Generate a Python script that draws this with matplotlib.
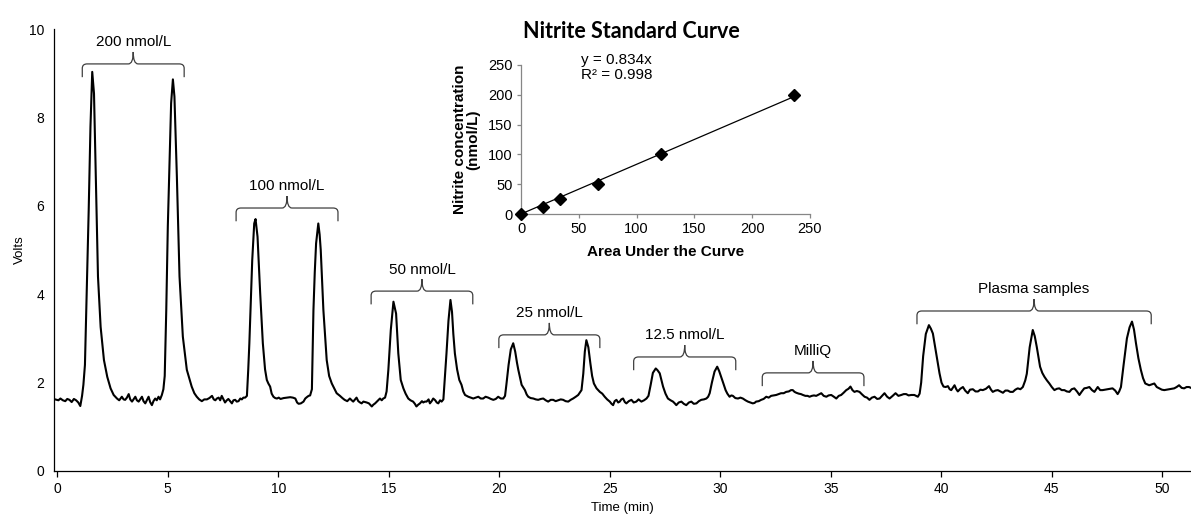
import numpy as np
import matplotlib.pyplot as plt
from matplotlib.path import Path
from matplotlib.patches import PathPatch

plt.rcParams['font.family'] = ['Liberation Sans', 'DejaVu Sans']

# chromatogram trace (rows of 10 points, same order in both lists)
time_min = [
    -0.1, 0.05, 0.14, 0.25, 0.36, 0.45, 0.55, 0.65, 0.75, 0.85,
    0.95, 1.04, 1.12, 1.18, 1.25, 1.31, 1.42, 1.50, 1.58, 1.66,
    1.74, 1.84, 1.96, 2.11, 2.26, 2.41, 2.55, 2.70, 2.80, 2.92,
    3.00, 3.07, 3.15, 3.23, 3.30, 3.38, 3.46, 3.53, 3.60, 3.68,
    3.75, 3.83, 3.90, 3.98, 4.05, 4.13, 4.20, 4.28, 4.35, 4.43,
    4.50, 4.58, 4.65, 4.73, 4.80, 4.86, 4.93, 5.00, 5.08, 5.15,
    5.23, 5.30, 5.41, 5.53, 5.68, 5.86, 6.08, 6.20, 6.31, 6.42,
    6.54, 6.65, 6.77, 6.88, 7.00, 7.08, 7.15, 7.22, 7.30, 7.37,
    7.44, 7.52, 7.59, 7.67, 7.74, 7.82, 7.90, 7.97, 8.05, 8.12,
    8.20, 8.28, 8.35, 8.42, 8.50, 8.58, 8.64, 8.69, 8.76, 8.82,
    8.91, 8.97, 9.06, 9.18, 9.30, 9.40, 9.48, 9.55, 9.63, 9.70,
    9.78, 9.86, 9.94, 10.02, 10.10, 10.24, 10.40, 10.54, 10.66, 10.77,
    10.85, 10.92, 11.02, 11.14, 11.22, 11.29, 11.37, 11.44, 11.52, 11.59,
    11.65, 11.71, 11.81, 11.87, 11.92, 12.04, 12.19, 12.30, 12.42, 12.50,
    12.64, 12.79, 12.90, 13.00, 13.12, 13.24, 13.32, 13.39, 13.47, 13.54,
    13.62, 13.70, 13.77, 13.85, 14.00, 14.10, 14.23, 14.30, 14.38, 14.48,
    14.60, 14.68, 14.75, 14.83, 14.90, 14.98, 15.09, 15.21, 15.33, 15.43,
    15.54, 15.66, 15.76, 15.88, 15.98, 16.10, 16.18, 16.25, 16.33, 16.41,
    16.50, 16.56, 16.63, 16.71, 16.80, 16.86, 16.94, 17.01, 17.10, 17.17,
    17.24, 17.32, 17.39, 17.47, 17.55, 17.61, 17.70, 17.79, 17.86, 17.92,
    17.99, 18.09, 18.19, 18.29, 18.37, 18.45, 18.52, 18.60, 18.71, 18.82,
    18.93, 19.05, 19.16, 19.27, 19.38, 19.50, 19.62, 19.73, 19.84, 19.95,
    20.07, 20.18, 20.26, 20.32, 20.42, 20.52, 20.63, 20.72, 20.80, 20.86,
    21.01, 21.16, 21.24, 21.31, 21.42, 21.54, 21.65, 21.76, 21.88, 21.99,
    22.10, 22.21, 22.33, 22.44, 22.55, 22.67, 22.78, 22.89, 23.00, 23.12,
    23.23, 23.34, 23.46, 23.57, 23.65, 23.72, 23.80, 23.87, 23.94, 24.03,
    24.12, 24.20, 24.28, 24.40, 24.55, 24.66, 24.77, 24.88, 25.00, 25.08,
    25.15, 25.22, 25.30, 25.38, 25.45, 25.52, 25.60, 25.68, 25.75, 25.86,
    25.98, 26.08, 26.20, 26.30, 26.43, 26.55, 26.66, 26.75, 26.85, 26.95,
    27.08, 27.16, 27.26, 27.41, 27.52, 27.63, 27.75, 27.86, 27.94, 28.01,
    28.12, 28.24, 28.35, 28.46, 28.58, 28.69, 28.80, 28.92, 29.03, 29.14,
    29.26, 29.37, 29.45, 29.52, 29.62, 29.74, 29.86, 29.95, 30.04, 30.14,
    30.24, 30.32, 30.42, 30.50, 30.57, 30.68, 30.80, 30.91, 31.02, 31.14,
    31.25, 31.36, 31.47, 31.55, 31.62, 31.74, 31.85, 31.96, 32.08, 32.19,
    32.30, 32.42, 32.53, 32.64, 32.75, 32.87, 32.98, 33.10, 33.20, 33.28,
    33.36, 33.44, 33.55, 33.65, 33.74, 33.85, 33.95, 34.04, 34.14, 34.24,
    34.34, 34.45, 34.57, 34.68, 34.80, 34.90, 35.02, 35.14, 35.25, 35.36,
    35.47, 35.58, 35.70, 35.80, 35.89, 35.98, 36.07, 36.18, 36.30, 36.42,
    36.53, 36.64, 36.75, 36.86, 36.98, 37.10, 37.21, 37.32, 37.43, 37.55,
    37.66, 37.80, 37.93, 38.06, 38.19, 38.30, 38.41, 38.52, 38.64, 38.78,
    38.94, 39.02, 39.09, 39.18, 39.30, 39.44, 39.53, 39.62, 39.77, 39.92,
    40.01, 40.10, 40.20, 40.30, 40.38, 40.45, 40.52, 40.60, 40.68, 40.75,
    40.86, 40.98, 41.08, 41.20, 41.30, 41.43, 41.55, 41.66, 41.77, 41.88,
    42.02, 42.16, 42.25, 42.33, 42.45, 42.56, 42.67, 42.79, 42.90, 43.01,
    43.12, 43.24, 43.35, 43.46, 43.58, 43.69, 43.80, 43.87, 44.00, 44.14,
    44.23, 44.32, 44.47, 44.57, 44.67, 44.78, 44.89, 45.00, 45.12, 45.23,
    45.34, 45.45, 45.57, 45.68, 45.80, 45.90, 46.02, 46.14, 46.25, 46.36,
    46.47, 46.58, 46.70, 46.82, 46.93, 47.00, 47.08, 47.19, 47.30, 47.42,
    47.53, 47.64, 47.75, 47.87, 47.98, 48.05, 48.13, 48.25, 48.40, 48.52,
    48.63, 48.72, 48.81, 48.92, 49.03, 49.13, 49.23, 49.32, 49.41, 49.52,
    49.64, 49.75, 49.86, 49.98, 50.09, 50.20, 50.31, 50.42, 50.54, 50.65,
    50.76, 50.88, 50.99, 51.10, 51.21, 51.30,
]
volts = [
    1.62, 1.60, 1.64, 1.60, 1.58, 1.63, 1.61, 1.56, 1.63, 1.60,
    1.55, 1.47, 1.70, 1.95, 2.40, 3.64, 5.90, 7.79, 9.03, 8.54,
    6.66, 4.40, 3.26, 2.51, 2.13, 1.87, 1.72, 1.64, 1.60, 1.68,
    1.62, 1.61, 1.66, 1.74, 1.62, 1.57, 1.63, 1.68, 1.60, 1.57,
    1.62, 1.68, 1.58, 1.53, 1.60, 1.68, 1.56, 1.49, 1.58, 1.64,
    1.60, 1.68, 1.62, 1.72, 1.85, 2.15, 3.64, 5.53, 7.04, 8.32,
    8.86, 8.47, 6.66, 4.40, 3.04, 2.29, 1.91, 1.76, 1.68, 1.62,
    1.58, 1.62, 1.62, 1.65, 1.70, 1.62, 1.60, 1.64, 1.66, 1.60,
    1.70, 1.62, 1.55, 1.60, 1.63, 1.58, 1.53, 1.60, 1.61, 1.57,
    1.58, 1.64, 1.62, 1.66, 1.66, 1.70, 2.30, 2.89, 3.90, 4.77,
    5.60, 5.70, 5.30, 4.02, 2.89, 2.30, 2.06, 1.98, 1.91, 1.75,
    1.68, 1.65, 1.64, 1.66, 1.63, 1.65, 1.66, 1.67, 1.66, 1.64,
    1.55, 1.52, 1.53, 1.57, 1.64, 1.67, 1.70, 1.71, 1.85, 3.64,
    4.50, 5.15, 5.60, 5.35, 5.00, 3.64, 2.51, 2.15, 1.98, 1.90,
    1.76, 1.70, 1.65, 1.61, 1.58, 1.64, 1.60, 1.57, 1.62, 1.66,
    1.58, 1.55, 1.53, 1.57, 1.55, 1.53, 1.46, 1.50, 1.53, 1.58,
    1.64, 1.60, 1.64, 1.66, 1.80, 2.29, 3.19, 3.83, 3.56, 2.66,
    2.06, 1.87, 1.75, 1.64, 1.60, 1.57, 1.52, 1.46, 1.50, 1.53,
    1.58, 1.55, 1.57, 1.57, 1.62, 1.53, 1.58, 1.64, 1.60, 1.55,
    1.53, 1.60, 1.57, 1.62, 2.20, 2.66, 3.40, 3.87, 3.60, 3.10,
    2.66, 2.30, 2.06, 1.95, 1.80, 1.72, 1.70, 1.68, 1.66, 1.64,
    1.66, 1.68, 1.64, 1.64, 1.68, 1.66, 1.63, 1.61, 1.63, 1.68,
    1.64, 1.64, 1.70, 1.95, 2.40, 2.75, 2.89, 2.70, 2.45, 2.29,
    1.95, 1.83, 1.73, 1.68, 1.65, 1.64, 1.62, 1.61, 1.63, 1.64,
    1.60, 1.57, 1.61, 1.61, 1.58, 1.60, 1.62, 1.61, 1.58, 1.57,
    1.61, 1.64, 1.68, 1.72, 1.78, 1.83, 2.20, 2.70, 2.96, 2.80,
    2.44, 2.15, 1.98, 1.87, 1.79, 1.75, 1.68, 1.62, 1.57, 1.52,
    1.49, 1.58, 1.61, 1.55, 1.57, 1.62, 1.64, 1.56, 1.53, 1.58,
    1.61, 1.55, 1.57, 1.62, 1.57, 1.60, 1.64, 1.70, 1.95, 2.22,
    2.32, 2.28, 2.21, 1.91, 1.75, 1.64, 1.60, 1.57, 1.53, 1.49,
    1.55, 1.57, 1.52, 1.49, 1.55, 1.57, 1.52, 1.53, 1.58, 1.61,
    1.62, 1.64, 1.68, 1.76, 2.00, 2.25, 2.36, 2.26, 2.13, 1.98,
    1.83, 1.75, 1.68, 1.71, 1.70, 1.65, 1.64, 1.66, 1.64, 1.60,
    1.57, 1.55, 1.53, 1.54, 1.57, 1.58, 1.61, 1.63, 1.68, 1.66,
    1.70, 1.71, 1.72, 1.74, 1.76, 1.76, 1.79, 1.80, 1.83, 1.83,
    1.79, 1.77, 1.75, 1.74, 1.72, 1.70, 1.70, 1.68, 1.70, 1.71,
    1.70, 1.73, 1.76, 1.70, 1.68, 1.71, 1.72, 1.68, 1.64, 1.70,
    1.72, 1.77, 1.83, 1.86, 1.91, 1.83, 1.79, 1.81, 1.79, 1.73,
    1.68, 1.66, 1.61, 1.66, 1.68, 1.63, 1.64, 1.70, 1.76, 1.68,
    1.64, 1.70, 1.76, 1.70, 1.72, 1.74, 1.74, 1.71, 1.72, 1.72,
    1.68, 1.75, 2.00, 2.60, 3.10, 3.30, 3.22, 3.11, 2.66, 2.21,
    2.00, 1.91, 1.90, 1.92, 1.85, 1.83, 1.88, 1.94, 1.85, 1.80,
    1.86, 1.90, 1.82, 1.76, 1.84, 1.85, 1.80, 1.80, 1.84, 1.83,
    1.86, 1.92, 1.84, 1.79, 1.82, 1.83, 1.80, 1.77, 1.82, 1.82,
    1.79, 1.79, 1.84, 1.87, 1.85, 1.90, 2.05, 2.20, 2.80, 3.19,
    3.05, 2.81, 2.36, 2.22, 2.13, 2.05, 1.98, 1.90, 1.83, 1.86,
    1.87, 1.83, 1.83, 1.80, 1.79, 1.85, 1.87, 1.80, 1.72, 1.80,
    1.87, 1.88, 1.90, 1.83, 1.79, 1.84, 1.90, 1.83, 1.83, 1.84,
    1.85, 1.86, 1.87, 1.82, 1.74, 1.80, 1.90, 2.40, 3.00, 3.25,
    3.38, 3.20, 2.89, 2.55, 2.29, 2.10, 1.98, 1.96, 1.94, 1.96,
    1.98, 1.90, 1.87, 1.84, 1.83, 1.84, 1.85, 1.86, 1.87, 1.90,
    1.94, 1.88, 1.87, 1.90, 1.90, 1.88,
]
assert len(time_min) == len(volts)

# brackets over the peak groups
group_labels = ['200 nmol/L', '100 nmol/L', '50 nmol/L', '25 nmol/L',
                '12.5 nmol/L', 'MilliQ', 'Plasma samples']
group_start = [1.13, 8.09, 14.2, 19.98, 26.08, 31.9, 38.9]
group_end = [5.74, 12.70, 18.8, 24.55, 30.7, 36.5, 49.5]
group_level = [9.21, 5.95, 4.07, 3.08, 2.58, 2.22, 3.62]

# standard curve inset
std_area = [0, 19, 33.5, 67, 121, 236]
std_conc = [0, 12.5, 25, 50, 100, 200]
fit_slope = 0.834
fit_r2 = 0.998


def draw_brace(ax, x0, x1, y, label):
    rh, rv = 0.22, 0.1
    drop, rise = 0.3, 0.27
    xm = (x0 + x1) / 2
    verts = [(x0, y - drop), (x0, y - rv), (x0, y), (x0 + rh, y),
             (xm - rh, y), (xm, y), (xm, y + rise), (xm, y), (xm + rh, y),
             (x1 - rh, y), (x1, y), (x1, y - rv), (x1, y - drop)]
    codes = [Path.MOVETO, Path.LINETO, Path.CURVE3, Path.CURVE3,
             Path.LINETO, Path.CURVE3, Path.CURVE3, Path.CURVE3, Path.CURVE3,
             Path.LINETO, Path.CURVE3, Path.CURVE3, Path.LINETO]
    ax.add_patch(PathPatch(Path(verts, codes), fill=False, edgecolor='#3f3f3f',
                           linewidth=0.9, capstyle='butt'))
    ax.annotate(label, xy=(xm, y), xytext=(0, 15.5), textcoords='offset points',
                ha='center', va='center', fontsize=11, color='black')


fig = plt.figure(figsize=(11.91, 5.19), dpi=100)

# main chromatogram
ax = fig.add_axes([54 / 1191, 48 / 519, 1137 / 1191, 442 / 519])
ax.plot(time_min, volts, color='black', linewidth=1.5, solid_joinstyle='round')
ax.set_xlim(-0.15, 51.3)
ax.set_ylim(0, 10)
ax.set_xticks(np.arange(0, 51, 5))
ax.set_yticks(np.arange(0, 11, 2))
for side in ['top', 'right']:
    ax.spines[side].set_visible(False)
for side in ['left', 'bottom']:
    ax.spines[side].set_linewidth(0.9)
ax.tick_params(axis='x', length=4, width=0.9, pad=4, labelsize=10)
ax.tick_params(axis='y', length=0, pad=7, labelsize=10)
ax.set_xlabel('Time (min)', fontsize=9.5, labelpad=4)
ax.set_ylabel('Volts', fontsize=9.5)
ax.yaxis.set_label_coords(-0.025, 0.5)

for lab, x0, x1, lev in zip(group_labels, group_start, group_end, group_level):
    draw_brace(ax, x0, x1, lev, lab)

# inset standard curve
ax2 = fig.add_axes([521 / 1191, (519 - 214) / 519, 289 / 1191, 149 / 519])
fit_x = np.array([0, max(std_area)])
ax2.plot(fit_x, fit_slope * fit_x, color='black', linewidth=0.9)
ax2.plot(std_area, std_conc, linestyle='none', marker='D', markersize=6.5,
         color='black', clip_on=False, zorder=3)
ax2.set_xlim(0, 250)
ax2.set_ylim(0, 250)
ax2.set_xticks(np.arange(0, 251, 50))
ax2.set_yticks(np.arange(0, 251, 50))
for side in ['top', 'right']:
    ax2.spines[side].set_visible(False)
for side in ['left', 'bottom']:
    ax2.spines[side].set_color('#868686')
    ax2.spines[side].set_linewidth(0.9)
ax2.tick_params(length=3, width=0.9, color='#868686', labelsize=10.5, pad=3)
ax2.set_xlabel('Area Under the Curve', fontsize=11, fontweight='bold', labelpad=6)
ax2.set_ylabel('Nitrite concentration\n(nmol/L)', fontsize=11, fontweight='bold',
               linespacing=1.0)
ax2.yaxis.set_label_coords(-0.14, 0.5)
ax2.text(52, 270, 'y = %.3fx\nR² = %.3f' % (fit_slope, fit_r2), fontsize=11,
         ha='left', va='top', linespacing=1.05, clip_on=False)

fig.text(631 / 1191, 1 - 32 / 519, 'Nitrite Standard Curve', ha='center',
         va='center', fontsize=15.5, fontweight='bold', family=['Lato', 'DejaVu Sans'])

fig.savefig('out.png', dpi=100)
